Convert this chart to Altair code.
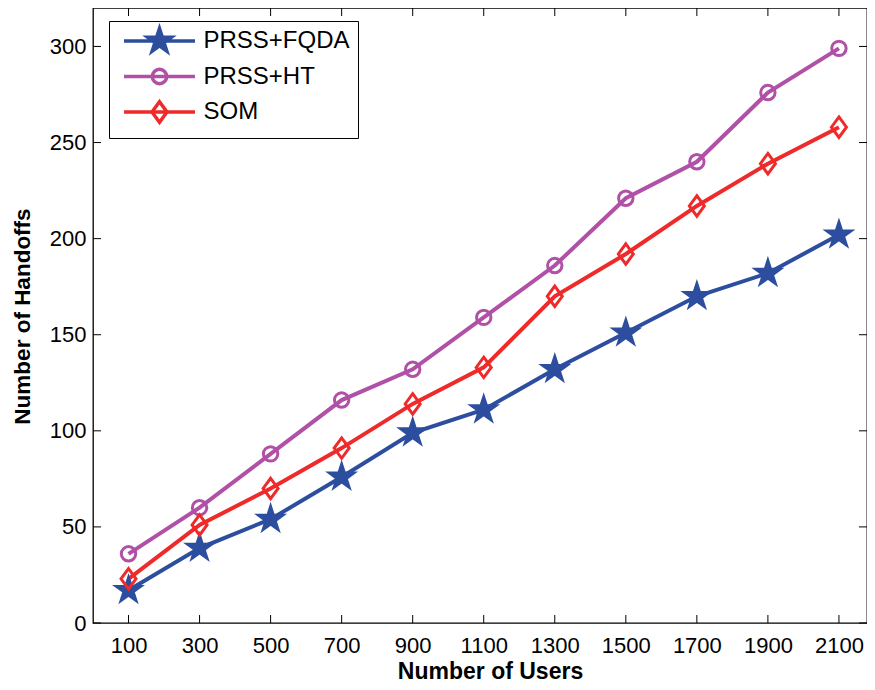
import math
import altair as alt
import pandas as pd

# ---- data ----
users = [100, 300, 500, 700, 900, 1100, 1300, 1500, 1700, 1900, 2100]
prss_fqda = [17, 39, 54, 76, 99, 111, 132, 151, 170, 182, 202]
prss_ht = [36, 60, 88, 116, 132, 159, 186, 221, 240, 276, 299]
som = [23, 51, 70, 91, 114, 133, 170, 192, 217, 239, 258]
series_names = ["PRSS+FQDA", "PRSS+HT", "SOM"]
x_ticks = [100, 300, 500, 700, 900, 1100, 1300, 1500, 1700, 1900, 2100]
y_ticks = [0, 50, 100, 150, 200, 250, 300]

colors = ["#2D4E9F", "#B050A6", "#EE2A2A"]
fills = ["#2D4E9F", "transparent", "transparent"]

W, H = 774, 615


def f(v):
    return f"{v:.4f}"


def star_path(r, ri_ratio=0.382):
    pts = []
    for k in range(10):
        ang = math.radians(-90 + 36 * k)
        rr = r if k % 2 == 0 else r * ri_ratio
        pts.append((rr * math.cos(ang), rr * math.sin(ang)))
    return "M" + " L".join(f"{f(x)},{f(y)}" for x, y in pts) + " Z"


def circle_path(r):
    return (f"M{f(r)},0 A{f(r)},{f(r)} 0 1,1 {f(-r)},0 "
            f"A{f(r)},{f(r)} 0 1,1 {f(r)},0 Z")


def diamond_path(hw, hh):
    return f"M0,{f(-hh)} L{f(hw)},0 L0,{f(hh)} L{f(-hw)},0 Z"


# markers (symbol size 400 -> 10 px per path unit)
marker_paths = [star_path(1.25), circle_path(0.72), diamond_path(0.75, 1.02)]
# legend symbols: line segment + marker, same scale
line_seg = "M-3.55,0 L3.55,0 "
legend_paths = [line_seg + p for p in marker_paths]

rows = []
for name, vals in zip(series_names, [prss_fqda, prss_ht, som]):
    for x, y in zip(users, vals):
        rows.append({"x": x, "y": y, "series": name})
df = pd.DataFrame(rows)
xt = pd.DataFrame({"x": x_ticks})
yt = pd.DataFrame({"y": y_ticks})

x_axis = alt.Axis(
    values=x_ticks, format="d", title="Number of Users", grid=False, ticks=False,
    tickSize=0, domain=False, labelFontSize=22, labelFont="Liberation Sans",
    labelColor="black", labelPadding=12, titleFont="Liberation Sans",
    titleFontSize=23, titleFontWeight="bold", titleColor="black",
    titleBaseline="middle", titleX=397, titleY=48, labelFlush=False,
)
y_axis = alt.Axis(
    values=y_ticks, format="d", title="Number of Handoffs", grid=False, ticks=False,
    tickSize=0, domain=False, labelFontSize=22, labelFont="Liberation Sans",
    labelColor="black", labelPadding=7, titleFont="Liberation Sans",
    titleFontSize=22.5, titleFontWeight="bold", titleColor="black",
    titleAngle=-90, titleBaseline="middle", titleX=-70.5, titleY=308,
    labelFlush=False,
)

x_scale = alt.Scale(domain=[0, 2179], nice=False, zero=False)
y_scale = alt.Scale(domain=[0, 320], nice=False)

x_enc = alt.X("x:Q", scale=x_scale, axis=x_axis)
y_enc = alt.Y("y:Q", scale=y_scale, axis=y_axis)

lines = alt.Chart(df).mark_line(strokeWidth=4).encode(
    x=x_enc, y=y_enc,
    color=alt.Color("series:N", scale=alt.Scale(domain=series_names, range=colors), legend=None),
    order=alt.Order("x:Q"),
)

points = alt.Chart(df).mark_point(size=400, strokeWidth=3, opacity=1, filled=True).encode(
    x=x_enc, y=y_enc,
    shape=alt.Shape("series:N", scale=alt.Scale(domain=series_names, range=marker_paths), legend=None),
    stroke=alt.Stroke("series:N", scale=alt.Scale(domain=series_names, range=colors), legend=None),
    fill=alt.Fill("series:N", scale=alt.Scale(domain=series_names, range=fills), legend=None),
)

leg = alt.Legend(
    title=None, orient="none", legendX=16, legendY=13, symbolSize=400,
    symbolStrokeWidth=3.5, symbolOffset=30.5, labelFontSize=24,
    labelFont="Liberation Sans", labelColor="black", strokeColor="black",
    fillColor="white", padding=8, rowPadding=2.5, labelOffset=32,
    cornerRadius=0, labelLimit=400,
)

legend_layer = alt.Chart(df).transform_filter("datum.y < -1000").mark_point(
    size=400, opacity=1, filled=True
).encode(
    x=x_enc, y=y_enc,
    shape=alt.Shape("series:N", scale=alt.Scale(domain=series_names, range=legend_paths), legend=leg),
    stroke=alt.Stroke("series:N", scale=alt.Scale(domain=series_names, range=colors), legend=leg),
    fill=alt.Fill("series:N", scale=alt.Scale(domain=series_names, range=fills), legend=leg),
)

tick_len = 8
x_ticks_bottom = alt.Chart(xt).mark_rule(color="black", strokeWidth=1).encode(
    x=alt.X("x:Q", scale=x_scale, axis=x_axis), y=alt.value(H), y2=alt.value(H - tick_len))
x_ticks_top = alt.Chart(xt).mark_rule(color="black", strokeWidth=1).encode(
    x=alt.X("x:Q", scale=x_scale, axis=x_axis), y=alt.value(0), y2=alt.value(tick_len))
y_ticks_left = alt.Chart(yt).mark_rule(color="black", strokeWidth=1).encode(
    y=alt.Y("y:Q", scale=y_scale, axis=y_axis), x=alt.value(0), x2=alt.value(tick_len))
y_ticks_right = alt.Chart(yt).mark_rule(color="black", strokeWidth=1).encode(
    y=alt.Y("y:Q", scale=y_scale, axis=y_axis), x=alt.value(W), x2=alt.value(W - tick_len))

chart = alt.layer(
    x_ticks_bottom, x_ticks_top, y_ticks_left, y_ticks_right,
    lines, points, legend_layer,
).resolve_scale(
    shape="independent", stroke="independent", fill="independent"
).properties(
    width=W, height=H,
    autosize=alt.AutoSizeParams(type="none"),
    padding={"left": 85, "top": 0, "right": 0, "bottom": 59},
    background="white",
).configure_view(
    stroke="black", strokeWidth=1.3
)

chart.save("out.html", embed_options={"renderer": "svg", "actions": False})
